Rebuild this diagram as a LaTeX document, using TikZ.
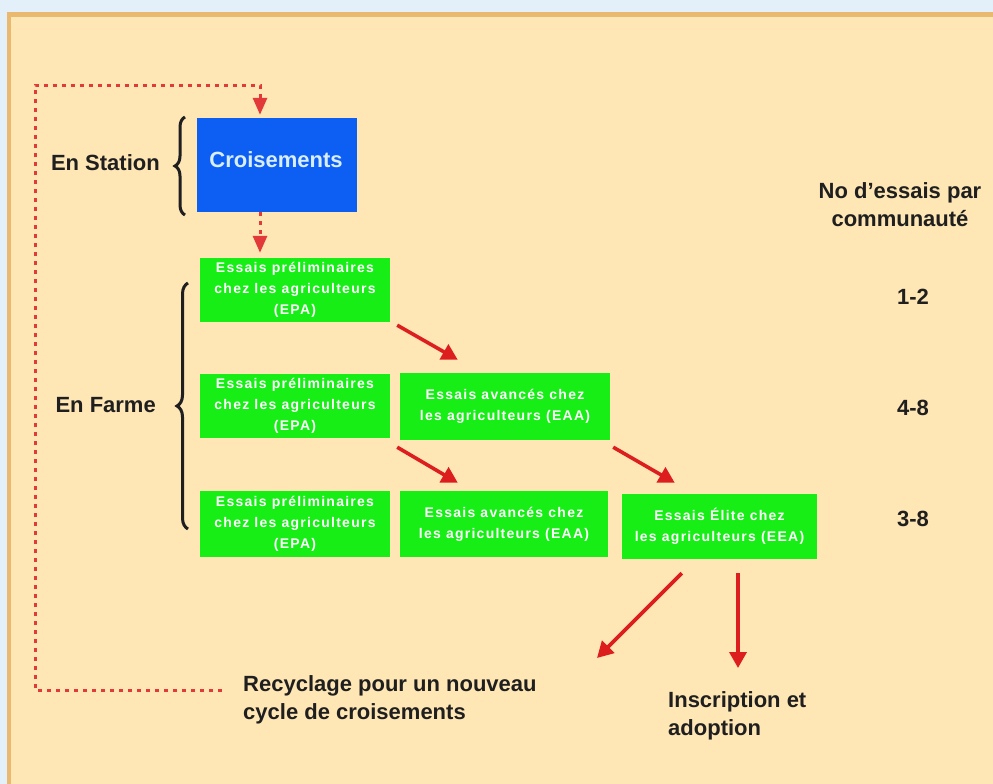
\documentclass[tikz,border=0pt]{standalone}
\usepackage{fontspec}
\setmainfont{Liberation Sans}
\newfontfamily\boxfont[LetterSpace=9]{Liberation Sans}
\usetikzlibrary{arrows.meta,calc,decorations.pathreplacing}
\definecolor{bgblue}{HTML}{E3F0F9}
\definecolor{frameor}{HTML}{E8B96F}
\definecolor{innerbg}{HTML}{FEE6B5}
\definecolor{boxblue}{HTML}{0D5EF2}
\definecolor{boxgreen}{HTML}{16EE16}
\definecolor{arrred}{HTML}{DC1E1E}
\definecolor{dashred}{HTML}{E23A3A}
\definecolor{crotext}{HTML}{D8EEFF}
\tikzset{
  gbox/.style={fill=boxgreen, text=white, font=\boxfont\bfseries\fontsize{14}{21}\selectfont, align=center, inner sep=0pt},
  lbl/.style={font=\bfseries\fontsize{22}{28}\selectfont, text=black!88, inner sep=0pt},
  arr/.style={draw=arrred, line width=3.6pt, -{Triangle[length=16pt,width=17pt]}},
  dsh/.style={draw=dashred, line width=3pt, dash pattern=on 4pt off 5pt},
  dtip/.style={-{Triangle[length=17pt,width=14pt]}},
  brc/.style={draw=black!88, line width=3pt, decorate, decoration={brace, amplitude=10pt}},
}
\begin{document}
\begin{tikzpicture}[x=1pt,y=-1pt]
\useasboundingbox (0,0) rectangle (993,784);
\fill[bgblue] (0,0) rectangle (993,784);
\fill[frameor] (7,12) rectangle (993,784);
\fill[innerbg] (11,17) rectangle (993,784);

% boxes
\node[fill=boxblue, minimum width=160pt, minimum height=94pt, inner sep=0pt] (cro) at (277,165) {};
\node[text=crotext, font=\bfseries\fontsize{22}{26}\selectfont, inner sep=0pt] (crot) at (276,160) {Croisements};
\node[gbox, minimum width=190pt, minimum height=64pt] (epa1) at (295,290) {Essais préliminaires\\chez les agriculteurs\\(EPA)};
\node[gbox, minimum width=190pt, minimum height=64pt] (epa2) at (295,406) {Essais préliminaires\\chez les agriculteurs\\(EPA)};
\node[gbox, minimum width=210pt, minimum height=67pt] (eaa2) at (505,406.5) {Essais avancés chez\\les agriculteurs (EAA)};
\node[gbox, minimum width=190pt, minimum height=66pt] (epa3) at (295,524) {Essais préliminaires\\chez les agriculteurs\\(EPA)};
\node[gbox, minimum width=208pt, minimum height=66pt] (eaa3) at (504,524) {Essais avancés chez\\les agriculteurs (EAA)};
\node[gbox, minimum width=195pt, minimum height=65pt] (eea3) at (719.5,526.5) {Essais Élite chez\\les agriculteurs (EEA)};

% labels
\node[lbl, anchor=east] (stat) at (160,163) {En Station};
\node[lbl, anchor=east] (farm) at (156,405) {En Farme};
\node[lbl, align=center] (noess) at (900,205) {No d’essais par\\communauté};
\node[lbl] (n1) at (913,297) {1-2};
\node[lbl] (n2) at (913,408) {4-8};
\node[lbl] (n3) at (913,519) {3-8};
\node[lbl, align=left, anchor=west] (recy) at (243,700) {Recyclage pour un nouveau\\cycle de croisements};
\node[lbl, align=left, anchor=west] (insc) at (668,716) {Inscription et\\adoption};

% braces
\coordinate (bs1) at (185,215);
\coordinate (bs2) at (185,117);
\coordinate (bf1) at (188,529);
\coordinate (bf2) at (188,283);
\draw[brc] (bs1) -- (bs2);
\draw[brc, decoration={brace, amplitude=11pt}] (bf1) -- (bf2);

% dashed recycling loop
\coordinate (lb) at (222,690);
\coordinate (lc) at (35,690);
\coordinate (tc) at (35,85);
\coordinate (tr) at (260,85);
\draw[dsh, dtip, shorten >=3pt] (lb) -- (lc) -- (tc) -- (tr) -- (tr |- cro.north);
\draw[dsh, dtip, shorten >=5pt] (tr |- cro.south) -- (tr |- epa1.north);

% solid arrows
\draw[arr] ($(epa1.south east)+(7,3)$) -- ($(eaa2.north west)+(58,-13)$);
\draw[arr] ($(epa2.south east)+(7,9)$) -- ($(eaa3.north west)+(58,-8)$);
\draw[arr] ($(eaa2.south east)+(3,7)$) -- ($(eea3.north west)+(53,-11)$);
\coordinate (rc) at (597,658);
\coordinate (ia) at (738,668);
\draw[arr] ($(eea3.south west)+(60,14)$) -- (rc);
\draw[arr] (eea3.south west -| ia) ++(0,14) -- (ia);
\end{tikzpicture}
\end{document}
